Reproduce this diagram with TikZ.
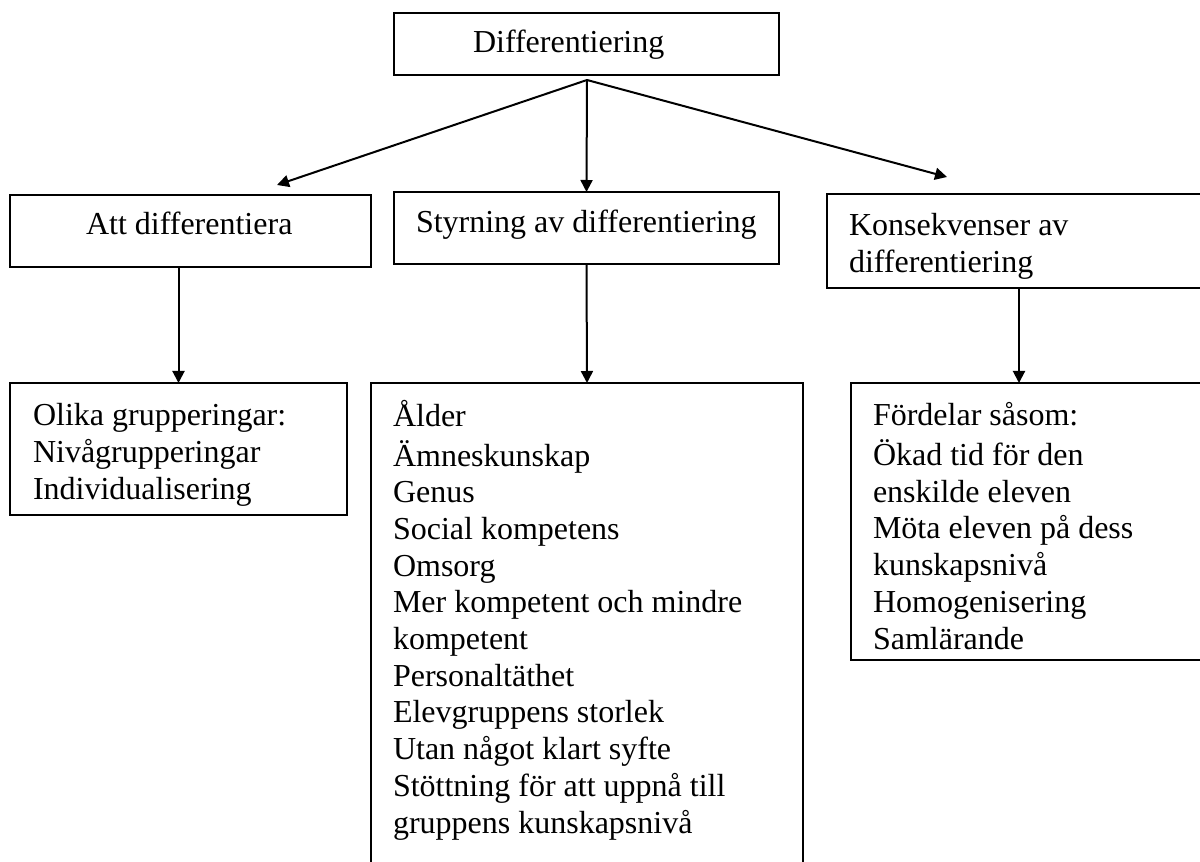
\documentclass[tikz,border=0pt]{standalone}
\usepackage{fontspec}
\setmainfont{Liberation Serif}
\usetikzlibrary{arrows.meta}
\tikzset{
  box/.style={draw, line width=0.75pt, anchor=north west, inner sep=0pt, outer sep=0pt},
  txt/.style={anchor=base west, inner sep=0pt, align=left, font=\fontsize{12}{13.76}\selectfont},
  txtlist/.style={txt, anchor=north west},
}
\begin{document}
\begin{tikzpicture}[x=0.375pt, y=-0.375pt, >={Triangle[length=4.5pt,width=4.5pt]}, line width=0.75pt]
      \useasboundingbox (0,0) rectangle (1200,862);
      \clip (0,0) rectangle (1200,862);
      % boxes
      \node[box, minimum width=144.375pt, minimum height=23.25pt] (diff) at (394,13) {};
      \node[box, minimum width=135.375pt, minimum height=27pt] (att) at (10,195) {};
      \node[box, minimum width=144.375pt, minimum height=27pt] (styr) at (394,192) {};
      \node[box, minimum width=145.5pt, minimum height=35.25pt] (kons) at (827,194) {};
      \node[box, minimum width=126.375pt, minimum height=49.5pt] (grp) at (10,383) {};
      \node[box, minimum width=162pt, minimum height=186.375pt] (faktor) at (371,383) {};
      \node[box, minimum width=136.5pt, minimum height=103.875pt] (ford) at (851,383) {};
      % texts (list tops = first baseline - strut height)
      \node[txt] (diffl) at (472,53) {Differentiering};
      \node[txt] (attl) at (85,235) {Att differentiera};
      \node[txt] (styrl) at (415,233) {Styrning av differentiering};
      \node[txtlist] (konsl) at (848,209.3) {\strut Konsekvenser av\\differentiering};
      \node[txtlist] (grpl) at (32,399.3) {\strut Olika grupperingar:\\Nivågrupperingar\\Individualisering};
      \node[txtlist] (faktorl) at (392,399.3) {\strut Ålder\\Ämneskunskap\\Genus\\Social kompetens\\Omsorg\\Mer kompetent och mindre\\kompetent\\Personaltäthet\\Elevgruppens storlek\\Utan något klart syfte\\Stöttning för att uppnå till\\gruppens kunskapsnivå};
      \node[txtlist] (fordl) at (872,399.3) {\strut Fördelar såsom:\\Ökad tid för den\\enskilde eleven\\Möta eleven på dess\\kunskapsnivå\\Homogenisering\\Samlärande};
      % connector ends
      \coordinate (top) at (587,80);
      \coordinate (attin) at (277,185);
      \coordinate (konsin) at (947,177);
      \coordinate (konsout) at (1019,288);
      \begin{scope}[->]
        \draw (top) to (attin);
        \draw (top) to (styr.north);
        \draw (top) to (konsin);
        \draw (att.south -| grp.north) to (grp.north);
        \draw (styr.south) to (faktor.north);
        \draw (konsout) to (konsout |- ford.north);
      \end{scope}
    \end{tikzpicture}
\end{document}
